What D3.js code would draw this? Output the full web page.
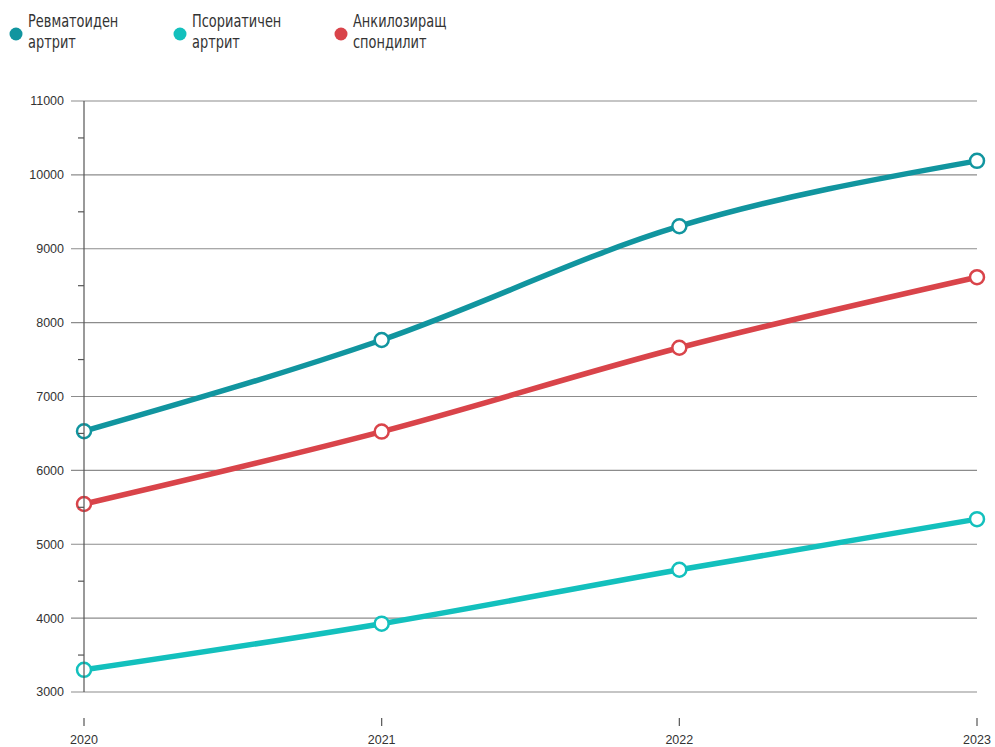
<!DOCTYPE html>
<html>
<head>
<meta charset="utf-8">
<script src="https://cdn.jsdelivr.net/npm/d3@7"></script>
<style>
  body { margin: 0; background: #fff; }
  svg { display: block; }
</style>
</head>
<body>
<svg id="chart" width="995" height="747"></svg>
<script>
// Годишни стойности по заболяване
const years = [2020, 2021, 2022, 2023];
const rheumatoid = [6530, 7765, 9305, 10190];
const psoriatic = [3300, 3925, 4655, 5340];
const ankylosing = [5545, 6525, 7660, 8615];
const yTicks = [3000, 4000, 5000, 6000, 7000, 8000, 9000, 10000, 11000];

const seriesNames = [["Ревматоиден", "артрит"], ["Псориатичен", "артрит"], ["Анкилозиращ", "спондилит"]];
const seriesColors = ["#11959f", "#13c0bd", "#d9444a"];
const seriesValues = [rheumatoid, psoriatic, ankylosing];

const svg = d3.select("#chart");
const plotLeft = 84, plotRight = 977, plotTop = 101, plotBottom = 692;

const x = d3.scalePoint().domain(years).range([plotLeft, plotRight]);
const y = d3.scaleLinear().domain([3000, 11000]).range([plotBottom, plotTop]);

// Хоризонтални линии на мрежата
svg.append("g")
  .selectAll("line")
  .data(yTicks)
  .join("line")
  .attr("x1", plotLeft - 13)
  .attr("x2", plotRight)
  .attr("y1", d => y(d))
  .attr("y2", d => y(d))
  .attr("stroke", "#8c8c8c")
  .attr("stroke-width", 1.2);

// Етикети на оста Y
svg.append("g")
  .selectAll("text")
  .data(yTicks)
  .join("text")
  .attr("x", plotLeft - 20)
  .attr("y", d => y(d))
  .attr("dy", "0.35em")
  .attr("text-anchor", "end")
  .attr("font-family", "Liberation Sans, Arial, sans-serif")
  .attr("font-size", 12.5)
  .attr("fill", "#333")
  .text(d => d);

// Линии на сериите
const line = d3.line()
  .x((d, i) => x(years[i]))
  .y(d => y(d))
  .curve(d3.curveMonotoneX);

seriesValues.forEach((vals, k) => {
  svg.append("path")
    .datum(vals)
    .attr("d", line)
    .attr("fill", "none")
    .attr("stroke", seriesColors[k])
    .attr("stroke-width", 5.5)
    .attr("stroke-linecap", "round");
});

seriesValues.forEach((vals, k) => {
  svg.append("g")
    .selectAll("circle")
    .data(vals)
    .join("circle")
    .attr("cx", (d, i) => x(years[i]))
    .attr("cy", d => y(d))
    .attr("r", 7)
    .attr("fill", "#fff")
    .attr("stroke", seriesColors[k])
    .attr("stroke-width", 2.5);
});

// Ос Y с малки междинни чертички
const axisG = svg.append("g");
axisG.append("line")
  .attr("x1", plotLeft).attr("x2", plotLeft)
  .attr("y1", plotTop).attr("y2", plotBottom)
  .attr("stroke", "#555").attr("stroke-width", 1.2);
axisG.selectAll("line.minor")
  .data(yTicks.slice(0, -1).map(d => d + 500))
  .join("line")
  .attr("class", "minor")
  .attr("x1", plotLeft - 6).attr("x2", plotLeft)
  .attr("y1", d => y(d)).attr("y2", d => y(d))
  .attr("stroke", "#555").attr("stroke-width", 1.2);

// Ос X
const xg = svg.append("g");
xg.selectAll("line")
  .data(years)
  .join("line")
  .attr("x1", d => x(d)).attr("x2", d => x(d))
  .attr("y1", 718).attr("y2", 726)
  .attr("stroke", "#555").attr("stroke-width", 1.2);
xg.selectAll("text")
  .data(years)
  .join("text")
  .attr("x", d => x(d))
  .attr("y", 744)
  .attr("text-anchor", "middle")
  .attr("font-family", "Liberation Sans, Arial, sans-serif")
  .attr("font-size", 12.5)
  .attr("fill", "#333")
  .text(d => d);

// Легенда (тесен шрифт, свит по хоризонтала), по един ред на текстов елемент
const legendX = [16, 180, 341];
const lineBaselines = [27, 48];
const legend = svg.append("g");
seriesNames.forEach((name, k) => {
  const g = legend.append("g").attr("transform", `translate(${legendX[k]},0)`);
  g.append("circle").attr("cx", 0).attr("cy", 34).attr("r", 6.5).attr("fill", seriesColors[k]);
  name.forEach((part, j) => {
    g.append("text")
      .attr("transform", `translate(12,${lineBaselines[j]}) scale(0.8,1)`)
      .attr("font-family", "DejaVu Sans Condensed, DejaVu Sans, sans-serif")
      .attr("font-size", 18)
      .attr("fill", "#333")
      .text(part);
  });
});
</script>
</body>
</html>
